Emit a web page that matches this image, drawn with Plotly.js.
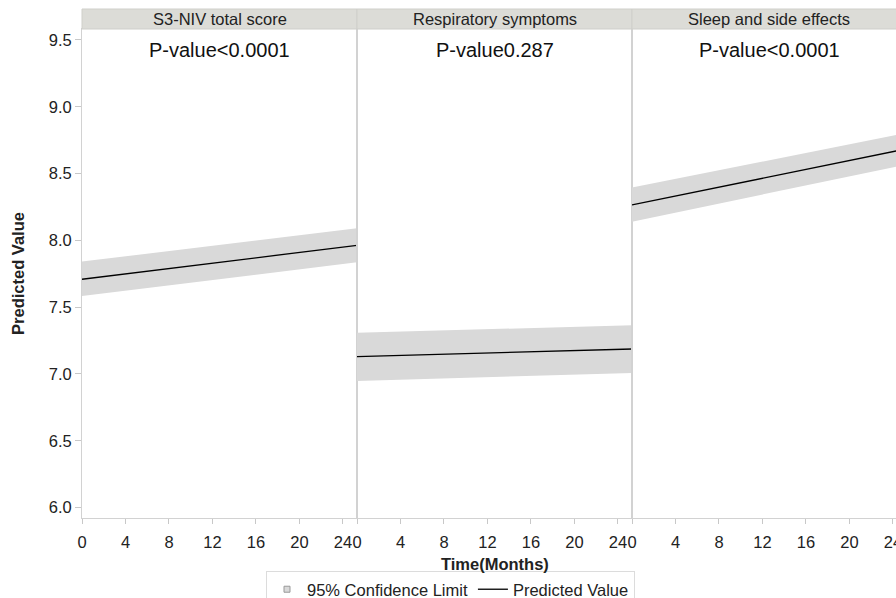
<!DOCTYPE html>
<html>
<head>
<meta charset="utf-8">
<script src="https://cdn.plot.ly/plotly-3.0.1.min.js"></script>
<style>html,body{margin:0;padding:0;overflow:hidden;background:#fff}#chart{width:907px;height:598px}</style>
</head>
<body>
<div id="chart"></div>
<script>
// Data
var panelTitles = ["S3-NIV total score", "Respiratory symptoms", "Sleep and side effects"];
var pValueLabels = ["P-value<0.0001", "P-value0.287", "P-value<0.0001"];
var timeMonths = [0, 25.3];
var predicted = [[7.709, 7.963], [7.130, 7.187], [8.265, 8.686]];
var upperCL = [[7.841, 8.091], [7.309, 7.364], [8.395, 8.805]];
var lowerCL = [[7.584, 7.836], [6.948, 7.007], [8.140, 8.569]];
var xTickVals = [0, 4, 8, 12, 16, 20, 24];
var yTickVals = [6.0, 6.5, 7.0, 7.5, 8.0, 8.5, 9.0, 9.5];

var FONT = "Arial, 'Liberation Sans', sans-serif";
var bandColor = "#d9d9d9";
var FS = 16.5;
var traces = [];
var layout = {
  width: 907, height: 598,
  margin: {l: 82, r: 0, t: 29, b: 80, autoexpand: false},
  paper_bgcolor: "#fff", plot_bgcolor: "#fff",
  font: {family: FONT, size: FS, color: "#222"},
  showlegend: true,
  legend: {orientation: "h", x: 266 / 907, xanchor: "left", xref: "container",
           y: 1 - 571 / 598, yanchor: "top", yref: "container", traceorder: "normal",
           bordercolor: "#dcdcdc", borderwidth: 1, font: {size: FS, color: "#222"},
           itemwidth: 30, tracegroupgap: 0},
  shapes: [], annotations: []
};

var plotH = 598 - 29 - 80;
for (var i = 0; i < 3; i++) {
  var s = i === 0 ? "" : String(i + 1);
  var xa = "x" + s, ya = "y" + s;
  traces.push({x: timeMonths, y: lowerCL[i], xaxis: xa, yaxis: ya, mode: "lines",
    line: {width: 0, color: bandColor}, showlegend: false, hoverinfo: "skip"});
  traces.push({x: timeMonths, y: upperCL[i], xaxis: xa, yaxis: ya, mode: "lines",
    fill: "tonexty", fillcolor: bandColor, line: {width: 0, color: bandColor},
    showlegend: false, hoverinfo: "skip"});
  traces.push({x: timeMonths, y: predicted[i], xaxis: xa, yaxis: ya, mode: "lines",
    line: {width: 1.3, color: "#000"}, name: "Predicted Value", showlegend: false});
  var d0 = i / 3, d1 = (i + 1) / 3;
  layout["xaxis" + s] = {domain: [d0, d1], range: [0, 25.29], anchor: ya, automargin: false,
    tickvals: xTickVals, ticktext: xTickVals.map(String), ticks: "outside", ticklen: 5,
    ticklabelstandoff: 4,
    tickcolor: "#c8c8c8", showgrid: false, zeroline: false, showline: true, mirror: true,
    linecolor: "#d2d2d2", linewidth: 1, tickfont: {size: FS, color: "#222"}};
  layout["yaxis" + s] = {range: [5.922, 9.582], anchor: xa, automargin: false, tickvals: yTickVals,
    ticktext: yTickVals.map(function(v){return v.toFixed(1);}),
    showticklabels: i === 0, ticks: i === 0 ? "outside" : "", ticklen: 6, tickcolor: "#c8c8c8",
    showgrid: false, zeroline: false, showline: true, mirror: true,
    linecolor: "#d2d2d2", linewidth: 1, tickfont: {size: FS, color: "#222"}};
  if (i > 0) layout["yaxis" + s].matches = "y";
  layout.shapes.push({type: "rect", xref: "paper", yref: "paper", x0: d0, x1: d1,
    y0: 1, y1: 1 + 20 / plotH, fillcolor: "#dcdcd7", line: {color: "#cfcfca", width: 1}, layer: "above"});
  layout.annotations.push({xref: "paper", yref: "paper", x: (d0 + d1) / 2, y: 1 + 10 / plotH,
    text: panelTitles[i], showarrow: false, xanchor: "center", yanchor: "middle",
    font: {size: FS, color: "#222"}});
  layout.annotations.push({xref: "paper", yref: "paper", x: (d0 + d1) / 2, y: (plotH - 21) / plotH,
    text: pValueLabels[i], showarrow: false, xanchor: "center", yanchor: "middle",
    font: {size: 20, color: "#111"}});
}
layout.yaxis.title = {text: "<b>Predicted Value</b>", font: {size: FS, color: "#222"}, standoff: 19};
// x-axis title drawn as a centred annotation below the three panels
layout.annotations.push({xref: "paper", yref: "paper", x: 0.5, y: -46 / plotH,
  text: "<b>Time(Months)</b>", showarrow: false, xanchor: "center", yanchor: "middle",
  font: {size: FS, color: "#222"}});

// legend-only entries
traces.push({x: [null], y: [null], mode: "markers", name: "95% Confidence Limit",
  marker: {symbol: "square", size: 6, color: bandColor, line: {color: "#999", width: 1}}});
traces.push({x: [null], y: [null], mode: "lines", name: "Predicted Value",
  line: {color: "#000", width: 1.3}});

Plotly.newPlot("chart", traces, layout, {displayModeBar: false, staticPlot: true});
</script>
</body>
</html>
